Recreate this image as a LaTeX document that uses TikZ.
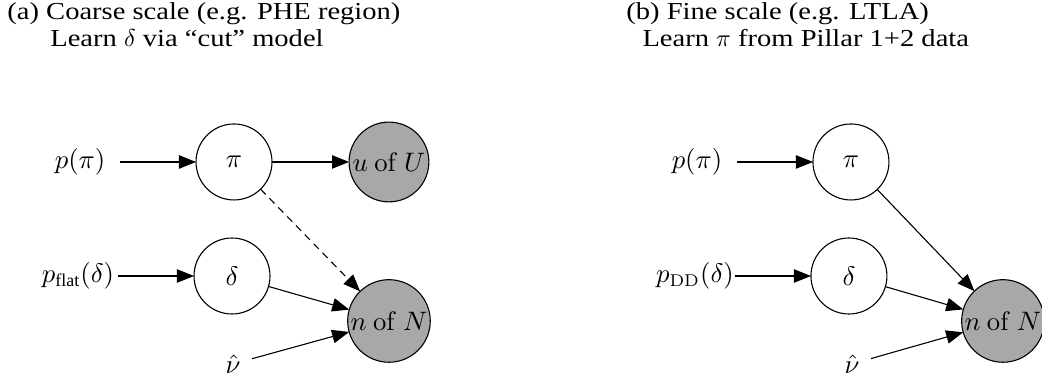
\documentclass[tikz,border=0pt]{standalone}
\usepackage[no-math]{fontspec}
\setmainfont{Liberation Serif}
\newfontfamily\titlefont[FakeStretch=1.17, Ligatures=TeX]{Liberation Serif}
\usepackage{amsmath,amssymb}
\usetikzlibrary{arrows.meta,positioning}

\begin{document}
\begin{tikzpicture}[
      font=\fontsize{10.5}{12}\selectfont,
      var/.style={draw, circle, line width=.45pt, inner sep=0pt, outer sep=0pt},
      latent/.style={var, fill=white, minimum size=1.095cm},
      observed/.style={var, fill=black!34, minimum size=1.19cm},
      prior/.style={inner sep=0pt, outer sep=0pt, minimum width=1.15cm, minimum height=.5cm},
      fixed/.style={inner sep=0pt, outer sep=0pt, minimum width=.55cm, minimum height=.5cm},
      title/.style={anchor=base west, inner sep=0pt, align=left,
                    font=\titlefont\fontsize{10}{10.7}\selectfont},
      flow/.style={-{Triangle[length=7pt, width=5.5pt]}, line width=.45pt},
      cut/.style={flow, dash pattern=on 3pt off 2.2pt}]
    \useasboundingbox (0,0) rectangle (15.015,5.504);

    % (a) coarse scale
    \node[title] (ta) at (0.10,4.841) {(a) Coarse scale (e.g. PHE region)\\
      \hspace*{17.6pt}Learn $\delta$ via ``cut'' model};
    \node[latent] (pi) at (3.372,3.170) {$\pi$};
    \node[latent] (delta) at (3.343,1.527) {$\delta$};
    \node[observed, minimum size=1.15cm] (u) at (5.605,3.170) {$u\ \mathrm{of}\ U$};
    \node[observed] (n) at (5.605,0.879) {$n\ \mathrm{of}\ N$};
    \node[prior] (ppi) at (1.153,3.170) {$p(\pi)$};
    \node[prior] (pflat) at (1.124,1.527) {$p_{\text{flat}}(\delta)$};
    \node[fixed] (nu) at (3.357,0.259) {$\hat{\nu}$};
    \draw[flow] (ppi) -- (pi);
    \draw[flow] (pi) -- (u);
    \draw[flow] (pflat) -- (delta);
    \draw[cut] (pi) -- (n);
    \draw[flow] (delta) -- (n);
    \draw[flow] (nu) -- (n);

    % (b) fine scale
    \node[title] (tb) at (9.02,4.841) {(b) Fine scale (e.g. LTLA)\\
      \hspace*{6.6pt}Learn $\pi$ from Pillar 1+2 data};
    \node[latent] (pib) at (12.262,3.170) {$\pi$};
    \node[latent] (deltab) at (12.233,1.527) {$\delta$};
    \node[observed] (nb) at (14.452,0.879) {$n\ \mathrm{of}\ N$};
    \node[prior] (ppib) at (10.043,3.170) {$p(\pi)$};
    \node[prior] (pdd) at (10.014,1.527) {$p_{\mathrm{DD}}(\delta)$};
    \node[fixed] (nub) at (12.277,0.259) {$\hat{\nu}$};
    \draw[flow] (ppib) -- (pib);
    \draw[flow] (pdd) -- (deltab);
    \draw[flow] (pib) -- (nb);
    \draw[flow] (deltab) -- (nb);
    \draw[flow] (nub) -- (nb);
\end{tikzpicture}
\end{document}
